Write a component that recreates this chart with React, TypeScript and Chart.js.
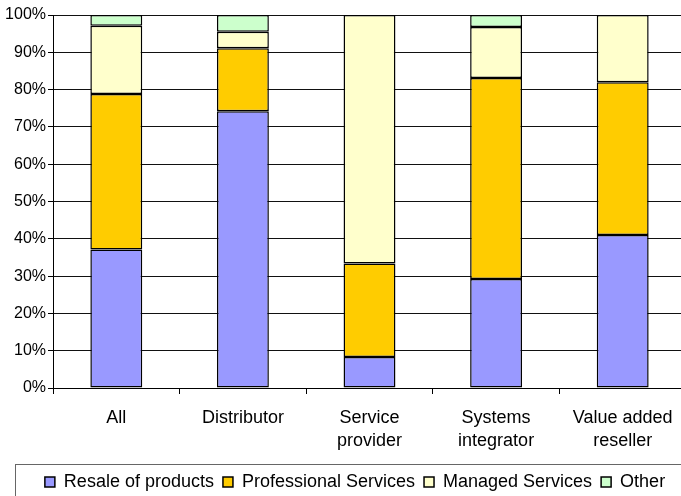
import React, { useEffect, useRef } from "react";
import { Chart, registerables } from "chart.js";

Chart.register(...registerables);

const categories: (string | string[])[] = [
  "All",
  "Distributor",
  ["Service", "provider"],
  ["Systems", "integrator"],
  ["Value added", "reseller"],
];
const resale = [37.1, 74.2, 8.3, 29.2, 41.0];
const professional = [41.7, 16.9, 25.1, 53.9, 41.0];
const managed = [18.3, 4.4, 66.6, 13.7, 18.0];
const other = [2.9, 4.5, 0, 3.2, 0];
const yTicks = [0, 10, 20, 30, 40, 50, 60, 70, 80, 90, 100];

const FONT = "'Liberation Sans', Arial, sans-serif";

const legendBorder = {
  id: "legendBorder",
  afterLayout(chart: any) {
    const lg = chart.legend;
    if (!lg) return;
    lg.left += 12;
    lg.right += 12;
  },
  afterDraw(chart: any) {
    const lg = chart.legend;
    if (!lg) return;
    const ctx = chart.ctx;
    ctx.save();
    ctx.strokeStyle = "#666";
    ctx.lineWidth = 1;
    ctx.strokeRect(15.5, Math.round(lg.top) + 0.5, chart.width, lg.height + 20);
    ctx.restore();
  },
};

export default function App() {
  const ref = useRef<HTMLCanvasElement>(null);
  useEffect(() => {
    if (!ref.current) return;
    const mk = (label: string, data: number[], color: string) => ({
      label,
      data,
      backgroundColor: color,
      borderColor: "#000",
      borderWidth: 1.5,
      borderSkipped: false as const,
      barPercentage: 0.41,
      categoryPercentage: 1,
    });
    const chart = new Chart(ref.current, {
      type: "bar",
      data: {
        labels: categories,
        datasets: [
          mk("Resale of products", resale, "#9999FF"),
          mk("Professional Services", professional, "#FFCC00"),
          mk("Managed Services", managed, "#FFFFCC"),
          mk("Other", other, "#CCFFCC"),
        ],
      },
      options: {
        animation: false,
        responsive: true,
        maintainAspectRatio: false,
        layout: { padding: { top: 15, left: 0, right: 0, bottom: 0 } },
        plugins: {
          tooltip: { enabled: false },
          legend: {
            position: "bottom",
            labels: {
              font: { family: FONT, size: 18 },
              color: "#000",
              boxWidth: 10,
              boxHeight: 10,
              padding: 9,
            },
          },
        },
        scales: {
          x: {
            stacked: true,
            grid: {
              offset: true,
              drawOnChartArea: false,
              drawTicks: true,
              tickLength: 6,
              color: "#000",
            },
            border: { color: "#000" },
            ticks: {
              color: "#000",
              font: { family: FONT, size: 18, lineHeight: 1.3 },
              maxRotation: 0,
              autoSkip: false,
              padding: 12,
            },
            afterFit(scale: any) {
              scale.height = 76;
            },
          },
          y: {
            stacked: true,
            min: 0,
            max: 100,
            afterBuildTicks(scale: any) {
              scale.ticks = yTicks.map((v) => ({ value: v }));
            },
            grid: { color: "#111", tickLength: 5, tickColor: "#000" },
            border: { color: "#000" },
            ticks: {
              color: "#000",
              font: { family: FONT, size: 16 },
              padding: 2,
              callback: (v: any) => v + "%",
            },
            afterFit(scale: any) {
              scale.width = 53;
            },
          },
        },
      },
      plugins: [legendBorder],
    });
    return () => chart.destroy();
  }, []);
  return (
    <div
      style={{
        position: "fixed",
        left: 0,
        top: 0,
        width: 681,
        height: 496,
        overflow: "hidden",
        background: "#fff",
      }}
    >
      <div style={{ width: 686, height: 501, position: "relative" }}>
        <canvas ref={ref} />
      </div>
    </div>
  );
}
